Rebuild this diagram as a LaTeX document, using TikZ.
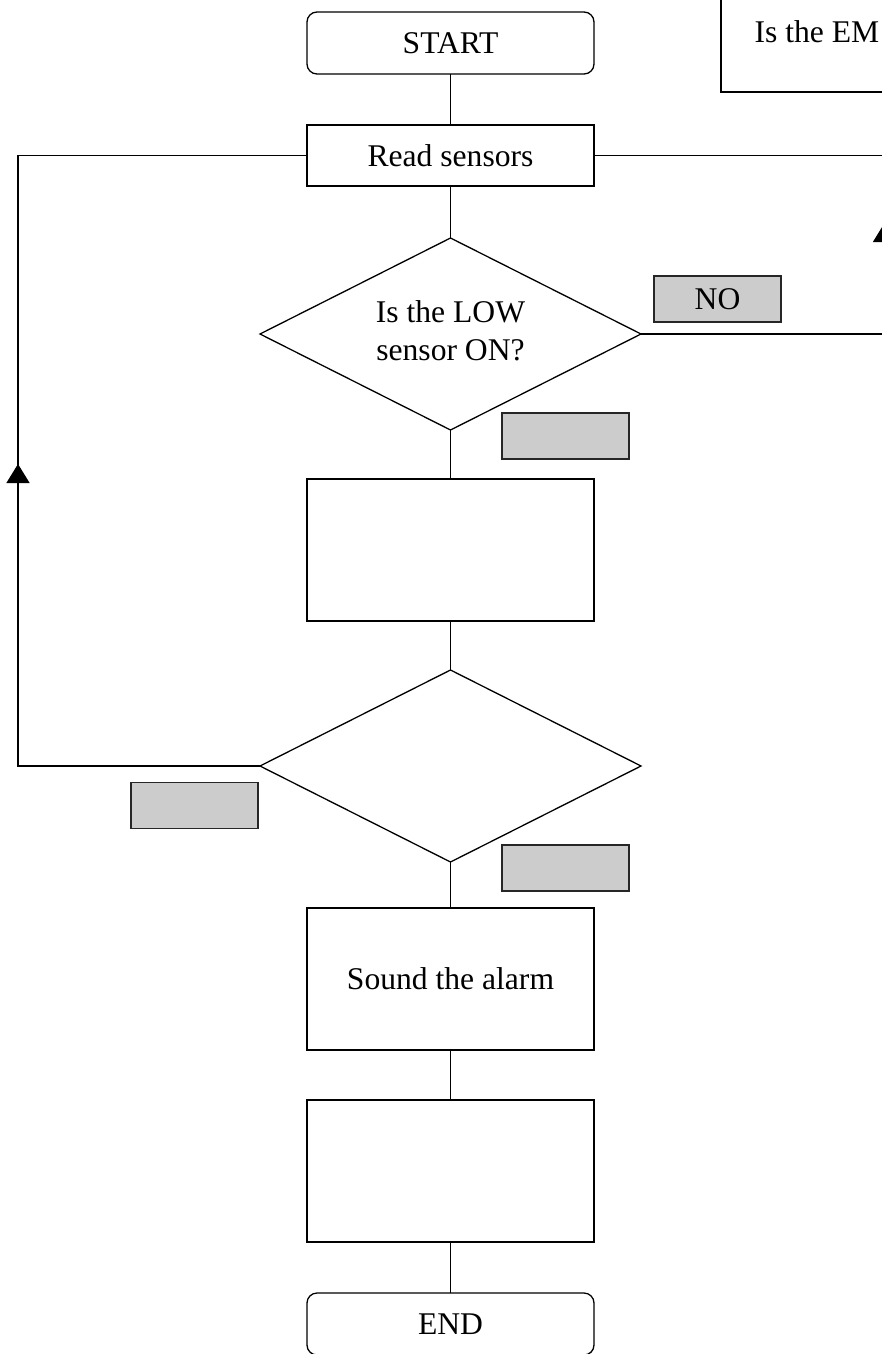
\documentclass[tikz,border=0pt]{standalone}
\usepackage{fontspec}
\setmainfont{Liberation Serif}
\usetikzlibrary{shapes.geometric,arrows.meta,decorations.markings}
\begin{document}
\begin{tikzpicture}[x=0.5pt,y=-0.5pt, line width=0.65pt,
  font=\fontsize{15.8}{18.5}\selectfont,
  proc/.style={draw, minimum width=143.5pt, minimum height=71pt, inner sep=0pt, outer sep=0pt, align=center},
  term/.style={proc, rounded corners=5pt, minimum height=31pt},
  dec/.style={diamond, draw, aspect=2, minimum width=190.5pt, minimum height=96pt, inner sep=0pt, outer sep=0pt, align=center},
  lbl/.style={draw=black!85, fill=black!20, minimum width=63.5pt, minimum height=23pt, inner sep=0pt, outer sep=0pt},
  uparrow/.style={postaction={decorate}, decoration={markings, mark=at position #1 with {\arrow{Triangle[width=11.5pt,length=9.5pt]}}}}]
\useasboundingbox (0,0) rectangle (882,1354);
% nodes
\node[term] (start) at (450.5,43) {START};
\node[proc, minimum height=30.5pt] (read) at (450.5,155.5) {Read sensors};
\node[dec] (d1) at (450.5,334) {\raisebox{2.5pt}{\begin{tabular}{@{}c@{}}Is the LOW\\[0.5pt]sensor ON?\end{tabular}}};
\node[proc] (p1) at (450.5,550) {};
\node[dec] (d2) at (450.5,766) {};
\node[proc] (alarm) at (450.5,979) {Sound the alarm};
\node[proc] (p2) at (450.5,1171) {};
\node[term] (end) at (450.5,1324) {END};
\node[draw, anchor=south west, minimum width=144.5pt, minimum height=71pt, inner sep=0pt, outer sep=0pt] (emp) at (721,92) {};
\node[anchor=base west, inner sep=0pt] (empt) at (754,43) {Is the EM};
% labels
\node[lbl] (no) at (717.5,299) {NO};
\node[lbl] (l1) at (565.5,436) {};
\node[lbl] (l2) at (194.5,805.5) {};
\node[lbl] (l3) at (565.5,868) {};
% helper coordinates
\coordinate (lx) at (18,0);
\coordinate (rx) at (884.5,0);
\coordinate (rr) at (900,0);
% connectors
\draw (start) -- (read);
\draw (read) -- (d1);
\draw (d1) -- (p1);
\draw (p1) -- (d2);
\draw (d2) -- (alarm);
\draw (alarm) -- (p2);
\draw (p2) -- (end);
\draw[uparrow=272pt] (d2.west) -- (d2.west -| lx) -- (read.west -| lx) -- (read.west);
\draw (read.east) -- (read.east -| rr);
\draw[uparrow=177.25pt] (d1.east) -- (d1.east -| rx) -- (read.east -| rx);
\end{tikzpicture}
\end{document}
